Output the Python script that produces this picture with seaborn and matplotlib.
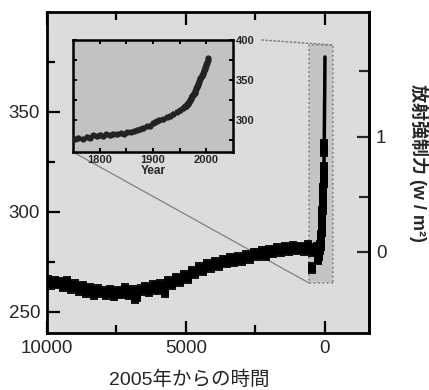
import numpy as np
import pandas as pd
import seaborn as sns
import matplotlib.pyplot as plt
from matplotlib.patches import Rectangle, ConnectionPatch
from matplotlib.ticker import FixedLocator

# carota di ghiaccio: anni prima del 2005 e CO2 (ppm)
ice_years = [9980, 9850, 9700, 9560, 9420, 9280, 9130, 9000, 8860, 8720,
             8580, 8440, 8300, 8160, 8020, 7880, 7740, 7600, 7460, 7320,
             7180, 7040, 6900, 6830, 6760, 6620, 6480, 6340, 6200, 6060,
             5920, 5780, 5750, 5640, 5500, 5360, 5220, 5080, 4940, 4800,
             4660, 4520, 4380, 4240, 4100, 3960, 3820, 3680, 3540, 3400,
             3260, 3120, 2980, 2840, 2700, 2560, 2420, 2280, 2140, 2000,
             1860, 1720, 1580, 1440, 1300, 1160, 1020, 880, 740, 600,
             480, 470, 380, 300]
ice_co2 = [265.5, 264, 265, 264.5, 263, 265, 262, 263.5, 261, 262.5,
           260, 261.5, 259, 261, 260, 259, 260.5, 258.5, 260, 259.5,
           261.5, 259, 260.5, 257, 258, 261, 262, 260.5, 263, 261.5,
           263.5, 262, 260, 265, 264, 266.5, 265.5, 268, 267, 270,
           269.5, 272, 271, 273.5, 272.5, 274.5, 273.5, 275.5, 275, 276.5,
           275.5, 277, 276, 278, 277, 279, 278.5, 280, 278.5, 280.5,
           280, 281.5, 280.5, 282, 281, 282.5, 281.5, 282, 281, 283,
           272, 280.5, 281.5, 282]
ice_err = 2.5

# carota recente: anno e CO2 (ppm)
recent_years = [1754, 1760, 1768, 1776, 1782, 1788, 1795, 1800, 1806, 1812,
                1820, 1825, 1832, 1840, 1846, 1851, 1858, 1864, 1870, 1876,
                1882, 1889, 1894, 1900, 1904, 1907, 1912, 1918, 1926, 1932,
                1938, 1945, 1951, 1957, 1962, 1968, 1974, 1978]
recent_co2 = [276, 277.5, 276.5, 279, 278, 281, 280, 281.5, 280, 282,
              281, 282.5, 282, 283.5, 283, 284.5, 285.5, 286, 287.5, 288.5,
              290, 292, 293, 296, 297.5, 299, 300.5, 301, 303.5, 305,
              307.5, 310.5, 312, 314.5, 318, 322.5, 330, 334]
recent_err = 2.0

# misure atmosferiche annuali: anno e CO2 (ppm)
atm_years = [1959, 1960, 1961, 1962, 1963, 1964, 1965, 1966, 1967, 1968,
             1969, 1970, 1971, 1972, 1973, 1974, 1975, 1976, 1977, 1978,
             1979, 1980, 1981, 1982, 1983, 1984, 1985, 1986, 1987, 1988,
             1989, 1990, 1991, 1992, 1993, 1994, 1995, 1996, 1997, 1998,
             1999, 2000, 2001, 2002, 2003, 2004]
atm_co2 = [316, 317, 318, 318, 319, 319.5, 320, 321, 322, 323,
           324.5, 325.5, 326.5, 327.5, 329.5, 330, 331, 332, 333.5, 335,
           336.5, 338.5, 340, 341, 342.5, 344, 345.5, 347, 349, 351.5,
           353, 354, 355.5, 356, 357, 359, 361, 362.5, 363.5, 366.5,
           368, 369.5, 371, 373, 375.5, 377.5]

x_ticks = [10000, 5000, 0]
y_ticks = [250, 300, 350]
forcing_ticks = [0, 1]
inset_x_ticks = [1800, 1900, 2000]
inset_y_ticks = [300, 350, 400]

ice = pd.DataFrame({'anni': ice_years, 'co2': ice_co2})
recent = pd.DataFrame({'anno': recent_years, 'co2': recent_co2})
recent['anni'] = 2005 - recent['anno']
atm = pd.DataFrame({'anno': atm_years, 'co2': atm_co2})
atm['anni'] = 2005 - atm['anno']

sns.set_theme(style="ticks")
plt.rcParams['font.family'] = ['Liberation Sans', 'Noto Sans CJK JP']

fig = plt.figure(figsize=(4.29, 3.90), dpi=100)
ax = fig.add_axes([47 / 429, 57 / 390, 322 / 429, 321 / 390])
ax.set_facecolor('#dcdcdc')

# riquadro dello zoom
ax.add_patch(Rectangle((-288, 264.5), 864, 119, facecolor='#c4c4c4',
                       edgecolor='#808080', linestyle=':', linewidth=1.2, zorder=1.5))

for df, err in [(ice, ice_err), (recent, recent_err)]:
    ax.errorbar(df['anni'], df['co2'], yerr=err, fmt='none', ecolor='black',
                elinewidth=1.3, capsize=2.6, capthick=1.3, zorder=3)
    sns.scatterplot(data=df, x='anni', y='co2', marker='s', s=30, color='black',
                    linewidth=0, ax=ax, zorder=4, legend=False)
sns.lineplot(data=atm, x='anni', y='co2', color='black', lw=2.5, ax=ax,
             zorder=4, legend=False)

ax.set_xlim(10000, -1583)
ax.set_ylim(239.5, 400)
ax.set_xticks(x_ticks)
ax.set_xticks([7500, 2500], minor=True)
ax.set_yticks(y_ticks)
ax.set_yticks([275, 325, 375], minor=True)
ax.tick_params(which='both', direction='in', top=True, right=False,
               labelsize=13.5, width=1.6, pad=5, color='black')
ax.tick_params(which='major', length=9)
ax.tick_params(which='minor', length=5.5)
for s in ax.spines.values():
    s.set_linewidth(2)
    s.set_color('black')

ax.set_xlabel('2005年からの時間', fontsize=14, va='top')
ax.xaxis.set_label_coords(0.4425, -0.118)
ax.set_ylabel('')

# forzante radiativo sull'asse destro
c0 = 280.0
sec = ax.secondary_yaxis('right',
                         functions=(lambda c: 5.35 * np.log(np.clip(c, 1, None) / c0),
                                    lambda f: c0 * np.exp(f / 5.35)))
sec.set_yticks(forcing_ticks)
sec.yaxis.set_minor_locator(FixedLocator([0.5, 1.5]))
sec.tick_params(which='both', direction='in', labelsize=13.5, width=1.6, pad=5)
sec.tick_params(which='major', length=9)
sec.tick_params(which='minor', length=7)
sec.spines['right'].set_linewidth(2)
sec.set_ylabel('放射強制力 (w / m²)', rotation=270, fontsize=13, fontweight='bold',
               ha='center', va='center', rotation_mode='default')
sec.yaxis.set_label_coords(1.155, 0.53, transform=ax.transAxes)

# grafico interno
ins = fig.add_axes([73 / 429, 238 / 390, 160 / 429, 112 / 390])
ins.set_facecolor('#c2c2c2')
ins.errorbar(recent['anno'], recent['co2'], yerr=recent_err, fmt='none',
             ecolor='#222222', elinewidth=0.9, capsize=1.4, zorder=3)
for df in [recent, atm]:
    sns.scatterplot(data=df, x='anno', y='co2', marker='o', s=20, color='#222222',
                    linewidth=0, ax=ins, zorder=4, legend=False)
ins.set_xlim(1750, 2050)
ins.set_ylim(260, 400)
ins.set_xticks(inset_x_ticks)
ins.set_xticks([1850, 1950], minor=True)
ins.set_yticks(inset_y_ticks)
ins.set_yticks([275, 325, 375], minor=True)
ins.tick_params(which='both', direction='in', top=True, right=True, left=True,
                labelleft=False, labelright=True, labelsize=8, length=3,
                width=1.4, pad=2, color='black')
for lab in ins.get_xticklabels() + ins.get_yticklabels():
    lab.set_fontweight('bold')
ins.set_xlabel('Year', fontsize=8.5, fontweight='bold', labelpad=0)
ins.set_ylabel('')
for s in ins.spines.values():
    s.set_linewidth(1.8)
    s.set_color('black')

con1 = ConnectionPatch(xyA=(0, 0), coordsA=ins.transAxes, xyB=(576, 264.5),
                       coordsB=ax.transData, color='#808080', lw=0.9, zorder=2)
ax.add_artist(con1)
con2 = ConnectionPatch(xyA=(1.18, 1.0), coordsA=ins.transAxes, xyB=(-288, 383.5),
                       coordsB=ax.transData, color='#808080', lw=1.1,
                       linestyle=':', zorder=2)
ax.add_artist(con2)

fig.savefig('out.png', dpi=100)
